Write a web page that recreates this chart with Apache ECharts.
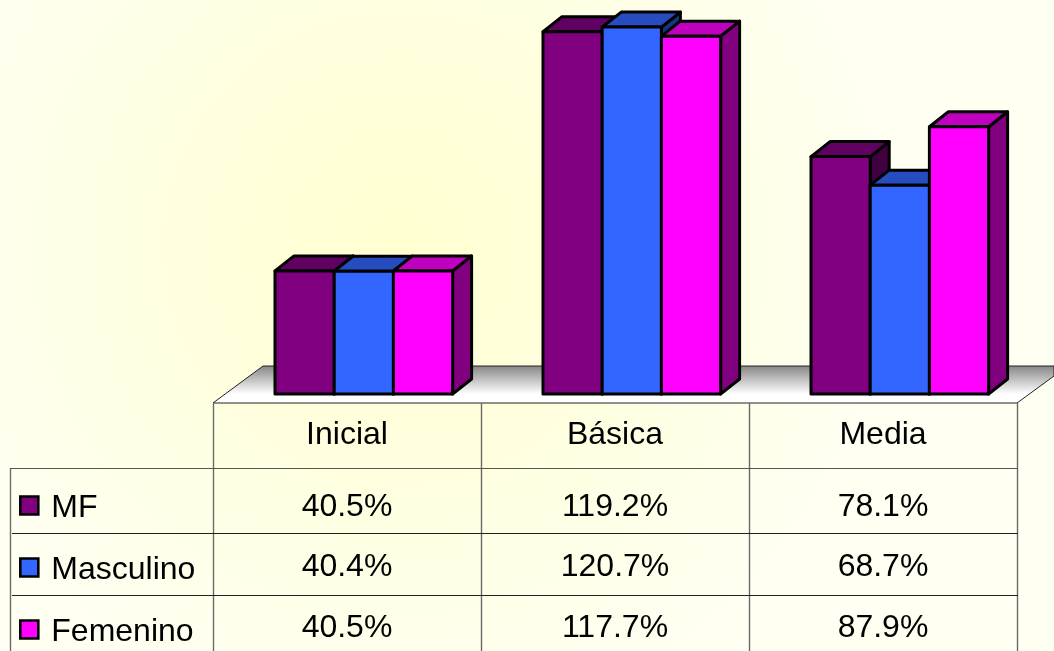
<!DOCTYPE html>
<html><head><meta charset="utf-8">
<style>html,body{margin:0;padding:0;background:#fff}#c{width:1054px;height:651px}</style>
<script src="https://cdn.jsdelivr.net/npm/echarts@6/dist/echarts.min.js"></script></head>
<body><div id="c"></div>
<script>
const categories = ['Inicial', 'Básica', 'Media'];
const seriesNames = ['MF', 'Masculino', 'Femenino'];
const mf = [40.5, 119.2, 78.1];
const masculino = [40.4, 120.7, 68.7];
const femenino = [40.5, 117.7, 87.9];
const frontColors = ['#800080', '#3366FF', '#FF00FF'];
const topColors = ['#600060', '#264CBF', '#BF00BF'];
const sideColors = ['#400040', '#19337F', '#800080'];

const seriesValues = [mf, masculino, femenino];
const FONT = '"Liberation Sans", Arial, sans-serif';
const DX = 19, DY = -15, BAR = 59.2, SHIFT = 16.8;
const colX = [213, 481, 749, 1017];
const rowCenters = [507, 567, 628];

function renderBar(si) {
  return function (params, api) {
    const c = api.value(0), v = api.value(1);
    const top = api.coord([c, v]), base = api.coord([c, 0]);
    const x0 = top[0] + SHIFT - BAR * 1.5 + si * BAR, x1 = x0 + BAR;
    const y0 = top[1], y1 = base[1];
    const st = (fill) => ({ fill, stroke: '#000', lineWidth: 3, lineJoin: 'round' });
    return { type: 'group', children: [
      { type: 'polygon', shape: { points: [[x1, y0], [x1 + DX, y0 + DY], [x1 + DX, y1 + DY], [x1, y1]] }, style: st(sideColors[si]) },
      { type: 'polygon', shape: { points: [[x0, y0], [x0 + DX, y0 + DY], [x1 + DX, y0 + DY], [x1, y0]] }, style: st(topColors[si]) },
      { type: 'rect', shape: { x: x0, y: y0, width: BAR, height: y1 - y0 }, style: st(frontColors[si]) }
    ] };
  };
}

const gfx = [];
gfx.push({ type: 'polygon', z: 0, shape: { points: [[213, 403], [263, 366], [1054, 366], [1054, 376], [1017, 403]] },
  style: { stroke: '#222', lineWidth: 1, fill: { type: 'linear', x: 0, y: 0, x2: 0, y2: 1, colorStops: [{ offset: 0, color: '#858585' }, { offset: 0.75, color: '#ffffff' }, { offset: 1, color: '#ffffff' }] } } });
function line(x1, y1, x2, y2, color, w) {
  gfx.push({ type: 'line', z: 1, shape: { x1, y1, x2, y2 }, style: { stroke: color, lineWidth: w } });
}
colX.forEach(x => line(x + .5, 403, x + .5, 651, '#6a6a6a', 1.4));
line(10.5, 468, 10.5, 651, '#6a6a6a', 1.4);
line(10, 468.5, 1018, 468.5, '#555', 1);
line(12, 533.5, 1018, 533.5, '#222', 1);
line(12, 595.5, 1018, 595.5, '#222', 1);
seriesValues.forEach((vals, r) => vals.forEach((v, c) => {
  gfx.push({ type: 'text', z: 2, style: { x: (colX[c] + colX[c + 1]) / 2, y: rowCenters[r], text: v.toFixed(1) + '%', fill: '#000', font: '32px ' + FONT, textAlign: 'center', textVerticalAlign: 'middle' } });
}));

const chart = echarts.init(document.getElementById('c'), null, { renderer: 'canvas' });
chart.setOption({
  animation: false,
  backgroundColor: { type: 'radial', x: 0.38, y: 0.38, r: 0.75, colorStops: [{ offset: 0, color: '#FFFFD0' }, { offset: 0.55, color: '#FFFFE2' }, { offset: 1, color: '#FFFFF2' }] },
  grid: { left: 213, width: 804, top: 14, height: 380 },
  xAxis: { type: 'category', data: categories, axisLine: { show: false }, axisTick: { show: false },
    axisLabel: { fontFamily: FONT, fontSize: 32, color: '#000', margin: 25, interval: 0 } },
  yAxis: { type: 'value', min: 0, max: 125, show: false, splitLine: { show: false } },
  legend: { orient: 'vertical', left: 19, top: 492, padding: 0, icon: 'rect', itemWidth: 18, itemHeight: 18, itemGap: 30,
    data: seriesNames, selectedMode: false, formatter: '{t|{name}}',
    itemStyle: { borderColor: '#000', borderWidth: 2.6 },
    textStyle: { rich: { t: { fontFamily: FONT, fontSize: 32, color: '#000', padding: [5, 0, 0, 8] } } } },
  graphic: gfx,
  series: seriesNames.map((name, si) => ({
    type: 'custom', name, z: 3 + si, clip: false,
    itemStyle: { color: frontColors[si] },
    encode: { x: 0, y: 1 },
    data: seriesValues[si].map((v, c) => [c, v]),
    renderItem: renderBar(si)
  }))
});
</script></body></html>
